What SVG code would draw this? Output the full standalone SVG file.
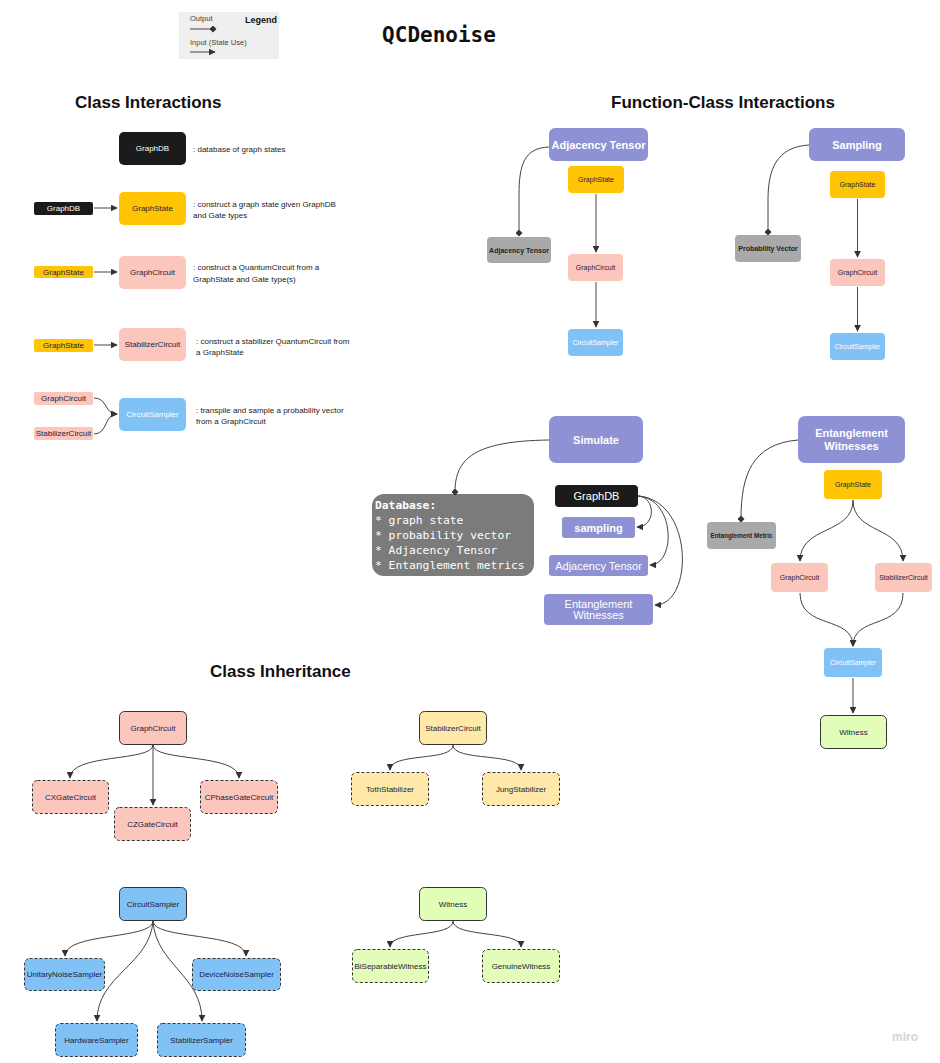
<svg xmlns="http://www.w3.org/2000/svg" width="940" height="1063" viewBox="0 0 940 1063">
  <defs>
    <marker id="arr" viewBox="0 0 10 10" refX="9" refY="5" markerWidth="7" markerHeight="7" markerUnits="userSpaceOnUse" orient="auto">
      <path d="M0,0 L10,5 L0,10 z" fill="#333"/>
    </marker>
    <marker id="dia" viewBox="0 0 10 10" refX="5" refY="5" markerWidth="7" markerHeight="7" markerUnits="userSpaceOnUse" orient="auto">
      <path d="M0,5 L5,0 L10,5 L5,10 z" fill="#333"/>
    </marker>
    <style>
      text { font-family: "Liberation Sans", Arial, sans-serif; }
      .title { font-size: 17px; font-weight: bold; fill: #111; }
      .lbl { font-size: 8px; text-anchor: middle; dominant-baseline: central; }
      .sm { font-size: 7px; }
      .big { font-size: 11px; }
      .desc { font-size: 8px; fill: #222; }
      .head { font-size: 11px; font-weight: bold; fill: #fff; text-anchor: middle; dominant-baseline: central; }
      .gray { fill: #a9a9a9; }
      .gl { font-size: 7px; font-weight: bold; fill: #222; text-anchor: middle; dominant-baseline: central; }
      .black { fill: #1b1b1b; }
      .yellow { fill: #ffc505; }
      .pink { fill: #fbc7bc; }
      .blue { fill: #80c2f6; }
      .purple { fill: #8e92d4; }
      .lyellow { fill: #ffe8a8; }
      .lgreen { fill: #e2fdb7; }
      .solid { stroke: #333; stroke-width: 1; }
      .dash { stroke: #333; stroke-width: 1; stroke-dasharray: 3 2; }
      .dk { fill: #1e1a3c; }
      .wh { fill: #fff; }
      .conn path { fill: none; stroke: #444; stroke-width: 1; }
      .mono { font-family: "DejaVu Sans Mono", "Liberation Mono", monospace; }
      .db { font-size: 11.3px; fill: #fff; }
    </style>
  </defs>

  <rect width="940" height="1063" fill="#fff"/>

  <!-- legend -->
  <g id="legend">
    <rect x="179" y="12" width="100" height="47" fill="#efefef"/>
    <text x="190" y="21" font-size="7.5" fill="#444">Output</text>
    <text x="245" y="23" font-size="9" font-weight="bold" fill="#111">Legend</text>
    <line x1="190" y1="29" x2="213" y2="29" stroke="#444" stroke-width="1" marker-end="url(#dia)"/>
    <text x="190" y="45" font-size="7.5" fill="#444">Input (State Use)</text>
    <line x1="190" y1="52" x2="215" y2="52" stroke="#444" stroke-width="1" marker-end="url(#arr)"/>
  </g>

  <text x="439" y="42" text-anchor="middle" class="mono" font-size="21" font-weight="bold" fill="#111">QCDenoise</text>

  <text x="75" y="108" class="title">Class Interactions</text>
  <text x="611" y="108" class="title">Function-Class Interactions</text>
  <text x="210" y="677" class="title">Class Inheritance</text>

  <!-- ===== Class Interactions ===== -->
  <g id="ci-graphdb">
    <rect x="119" y="132" width="67" height="33" rx="5" class="black"/>
    <text x="152.5" y="148.5" class="lbl wh">GraphDB</text>
  </g>
  <text x="193" y="152" class="desc">: database of graph states</text>

  <g id="ci-graphdb-in">
    <rect x="34" y="202" width="59" height="13" rx="2" class="black"/>
    <text x="63.5" y="208.5" class="lbl wh">GraphDB</text>
  </g>
  <g id="ci-graphstate">
    <rect x="119" y="192" width="67" height="33" rx="5" class="yellow"/>
    <text x="152.5" y="208.5" class="lbl dk">GraphState</text>
  </g>
  <text x="193" y="207" class="desc">: construct a graph state given GraphDB</text>
  <text x="193" y="218" class="desc">and Gate types</text>

  <g id="ci-graphstate-in1">
    <rect x="34" y="266" width="59" height="12" rx="2" class="yellow"/>
    <text x="63.5" y="272" class="lbl dk">GraphState</text>
  </g>
  <g id="ci-graphcircuit">
    <rect x="119" y="256" width="67" height="33" rx="5" class="pink"/>
    <text x="152.5" y="272.5" class="lbl dk">GraphCircuit</text>
  </g>
  <text x="193" y="270" class="desc">: construct a QuantumCircuit from a</text>
  <text x="193" y="282" class="desc">GraphState and Gate type(s)</text>

  <g id="ci-graphstate-in2">
    <rect x="34" y="339" width="59" height="13" rx="2" class="yellow"/>
    <text x="63.5" y="345.5" class="lbl dk">GraphState</text>
  </g>
  <g id="ci-stabilizercircuit">
    <rect x="119" y="328" width="67" height="33" rx="5" class="pink"/>
    <text x="152.5" y="344.5" class="lbl dk">StabilizerCircuit</text>
  </g>
  <text x="196" y="344" class="desc">: construct a stabilizer QuantumCircuit from</text>
  <text x="196" y="355" class="desc">a GraphState</text>

  <g id="ci-graphcircuit-in">
    <rect x="34" y="392" width="59" height="13" rx="2" class="pink"/>
    <text x="63.5" y="398.5" class="lbl dk">GraphCircuit</text>
  </g>
  <g id="ci-stabilizercircuit-in">
    <rect x="34" y="427" width="59" height="13" rx="2" class="pink"/>
    <text x="63.5" y="433.5" class="lbl dk">StabilizerCircuit</text>
  </g>
  <g id="ci-circuitsampler">
    <rect x="119" y="398" width="67" height="33" rx="5" class="blue"/>
    <text x="152.5" y="414.5" class="lbl wh">CircuitSampler</text>
  </g>
  <text x="196" y="413" class="desc">: transpile and sample a probability vector</text>
  <text x="196" y="424" class="desc">from a GraphCircuit</text>

  <!-- ===== Function-Class: Adjacency Tensor ===== -->
  <g id="fc-adj-head">
    <rect x="549" y="128" width="99" height="33" rx="6" class="purple"/>
    <text x="598.5" y="144.5" class="head">Adjacency Tensor</text>
  </g>
  <g id="fc-adj-out">
    <rect x="487" y="237" width="64" height="26" rx="4" class="gray"/>
    <text x="519" y="250" class="gl">Adjacency Tensor</text>
  </g>
  <g id="fc-adj-graphstate">
    <rect x="568" y="166" width="56" height="27" rx="4" class="yellow"/>
    <text x="596" y="179.5" class="lbl sm dk">GraphState</text>
  </g>
  <g id="fc-adj-graphcircuit">
    <rect x="568" y="254" width="55" height="27" rx="4" class="pink"/>
    <text x="595.5" y="267.5" class="lbl sm dk">GraphCircuit</text>
  </g>
  <g id="fc-adj-circuitsampler">
    <rect x="568" y="329" width="55" height="27" rx="4" class="blue"/>
    <text x="595.5" y="342.5" class="lbl sm wh">CircuitSampler</text>
  </g>

  <!-- ===== Function-Class: Sampling ===== -->
  <g id="fc-smp-head">
    <rect x="809" y="128" width="96" height="33" rx="6" class="purple"/>
    <text x="857" y="144.5" class="head">Sampling</text>
  </g>
  <g id="fc-smp-out">
    <rect x="735" y="235" width="66" height="27" rx="4" class="gray"/>
    <text x="768" y="248.5" class="gl">Probability Vector</text>
  </g>
  <g id="fc-smp-graphstate">
    <rect x="830" y="171" width="55" height="27" rx="4" class="yellow"/>
    <text x="857.5" y="184.5" class="lbl sm dk">GraphState</text>
  </g>
  <g id="fc-smp-graphcircuit">
    <rect x="830" y="259" width="55" height="27" rx="4" class="pink"/>
    <text x="857.5" y="272.5" class="lbl sm dk">GraphCircuit</text>
  </g>
  <g id="fc-smp-circuitsampler">
    <rect x="830" y="333" width="55" height="27" rx="4" class="blue"/>
    <text x="857.5" y="346.5" class="lbl sm wh">CircuitSampler</text>
  </g>

  <!-- ===== Function-Class: Simulate ===== -->
  <g id="fc-sim-head">
    <rect x="549" y="416" width="94" height="47" rx="7" class="purple"/>
    <text x="596" y="439.5" class="head">Simulate</text>
  </g>
  <g id="fc-sim-db">
    <rect x="372" y="494" width="162" height="82" rx="12" fill="#7b7b7b"/>
    <text x="375" y="509" class="mono db" font-weight="bold">Database:</text>
    <text x="375" y="524" class="mono db">* graph state</text>
    <text x="375" y="539" class="mono db">* probability vector</text>
    <text x="375" y="554" class="mono db">* Adjacency Tensor</text>
    <text x="375" y="569" class="mono db">* Entanglement metrics</text>
  </g>
  <g id="fc-sim-graphdb">
    <rect x="555" y="485" width="83" height="22" rx="4" class="black"/>
    <text x="596.5" y="496" class="lbl big wh">GraphDB</text>
  </g>
  <g id="fc-sim-sampling">
    <rect x="562" y="517" width="73" height="21" rx="3" class="purple"/>
    <text x="598.5" y="527.5" class="head">sampling</text>
  </g>
  <g id="fc-sim-adj">
    <rect x="549" y="555" width="99" height="21" rx="3" class="purple"/>
    <text x="598.5" y="565.5" class="lbl big wh">Adjacency Tensor</text>
  </g>
  <g id="fc-sim-ew">
    <rect x="544" y="594" width="109" height="31" rx="4" class="purple"/>
    <text x="598.5" y="603.5" class="lbl big wh">Entanglement</text>
    <text x="598.5" y="615" class="lbl big wh">Witnesses</text>
  </g>

  <!-- ===== Function-Class: Entanglement Witnesses ===== -->
  <g id="fc-ew-head">
    <rect x="798" y="416" width="107" height="47" rx="7" class="purple"/>
    <text x="851.5" y="433" class="head">Entanglement</text>
    <text x="851.5" y="446" class="head">Witnesses</text>
  </g>
  <g id="fc-ew-out">
    <rect x="707" y="522" width="69" height="27" rx="4" class="gray"/>
    <text x="741.5" y="535.5" class="gl" style="font-size:6.3px">Entanglement Metric</text>
  </g>
  <g id="fc-ew-graphstate">
    <rect x="824" y="470" width="58" height="29" rx="4" class="yellow"/>
    <text x="853" y="484.5" class="lbl sm dk">GraphState</text>
  </g>
  <g id="fc-ew-graphcircuit">
    <rect x="771" y="563" width="57" height="29" rx="4" class="pink"/>
    <text x="799.5" y="577.5" class="lbl sm dk">GraphCircuit</text>
  </g>
  <g id="fc-ew-stabilizercircuit">
    <rect x="875" y="563" width="57" height="29" rx="4" class="pink"/>
    <text x="903.5" y="577.5" class="lbl sm dk">StabilizerCircuit</text>
  </g>
  <g id="fc-ew-circuitsampler">
    <rect x="824" y="648" width="58" height="29" rx="4" class="blue"/>
    <text x="853" y="662.5" class="lbl sm wh">CircuitSampler</text>
  </g>
  <g id="fc-ew-witness">
    <rect x="820.5" y="715.5" width="66" height="33" rx="5" class="lgreen solid"/>
    <text x="853.5" y="732" class="lbl dk">Witness</text>
  </g>

  <!-- ===== Class Inheritance ===== -->
  <g id="in-graphcircuit">
    <rect x="119.5" y="711.5" width="67" height="33" rx="5" class="pink solid"/>
    <text x="153" y="728" class="lbl dk">GraphCircuit</text>
  </g>
  <g id="in-cx">
    <rect x="32.5" y="780.5" width="76" height="33" rx="5" class="pink dash"/>
    <text x="70.5" y="797" class="lbl dk">CXGateCircuit</text>
  </g>
  <g id="in-cz">
    <rect x="114.5" y="807.5" width="76" height="33" rx="5" class="pink dash"/>
    <text x="152.5" y="824" class="lbl dk">CZGateCircuit</text>
  </g>
  <g id="in-cphase">
    <rect x="200.5" y="780.5" width="77" height="33" rx="5" class="pink dash"/>
    <text x="239" y="797" class="lbl dk">CPhaseGateCircuit</text>
  </g>

  <g id="in-stabilizercircuit">
    <rect x="419.5" y="711.5" width="67" height="33" rx="5" class="lyellow solid"/>
    <text x="453" y="728" class="lbl dk">StabilizerCircuit</text>
  </g>
  <g id="in-toth">
    <rect x="351.5" y="772.5" width="77" height="33" rx="5" class="lyellow dash"/>
    <text x="390" y="789" class="lbl dk">TothStabilizer</text>
  </g>
  <g id="in-jung">
    <rect x="482.5" y="772.5" width="77" height="33" rx="5" class="lyellow dash"/>
    <text x="521" y="789" class="lbl dk">JungStabilizer</text>
  </g>

  <g id="in-circuitsampler">
    <rect x="119.5" y="887.5" width="67" height="33" rx="5" class="blue solid"/>
    <text x="153" y="904" class="lbl dk">CircuitSampler</text>
  </g>
  <g id="in-unitary">
    <rect x="24.5" y="958.5" width="80" height="32" rx="5" class="blue dash"/>
    <text x="64.5" y="974.5" class="lbl dk">UnitaryNoiseSampler</text>
  </g>
  <g id="in-device">
    <rect x="192.5" y="958.5" width="88" height="32" rx="5" class="blue dash"/>
    <text x="236.5" y="974.5" class="lbl dk">DeviceNoiseSampler</text>
  </g>
  <g id="in-hardware">
    <rect x="55.5" y="1023.5" width="82" height="33" rx="5" class="blue dash"/>
    <text x="96.5" y="1040" class="lbl dk">HardwareSampler</text>
  </g>
  <g id="in-stabsampler">
    <rect x="157.5" y="1023.5" width="88" height="33" rx="5" class="blue dash"/>
    <text x="201.5" y="1040" class="lbl dk">StabilizerSampler</text>
  </g>

  <g id="in-witness">
    <rect x="419.5" y="887.5" width="67" height="33" rx="5" class="lgreen solid"/>
    <text x="453" y="904" class="lbl dk">Witness</text>
  </g>
  <g id="in-bisep">
    <rect x="352.5" y="949.5" width="76" height="33" rx="5" class="lgreen dash"/>
    <text x="390.5" y="966" class="lbl dk">BiSeparableWitness</text>
  </g>
  <g id="in-genuine">
    <rect x="482.5" y="949.5" width="77" height="33" rx="5" class="lgreen dash"/>
    <text x="521" y="966" class="lbl dk">GenuineWitness</text>
  </g>

  <!-- ===== connectors ===== -->
  <g id="connectors" class="conn">
    <!-- class interactions -->
    <path d="M94,208 L117,208" marker-end="url(#arr)"/>
    <path d="M94,272 L117,272" marker-end="url(#arr)"/>
    <path d="M94,345 L117,345" marker-end="url(#arr)"/>
    <path d="M94,398 C108,398 104,414 117,414" marker-end="url(#arr)"/>
    <path d="M94,434 C108,434 104,414 117,414" marker-end="url(#arr)"/>

    <!-- adjacency tensor -->
    <path d="M549,147 C524,148 519,165 519,195 L519,233" marker-end="url(#dia)"/>
    <path d="M596,194 L596,252" marker-end="url(#arr)"/>
    <path d="M596,282 L596,327" marker-end="url(#arr)"/>

    <!-- sampling -->
    <path d="M809,145 C776,147 768,170 768,200 L768,232" marker-end="url(#dia)"/>
    <path d="M857.5,199 L857.5,257" marker-end="url(#arr)"/>
    <path d="M857.5,287 L857.5,331" marker-end="url(#arr)"/>

    <!-- simulate -->
    <path d="M549,440 C475,441 455,458 455,492" marker-end="url(#dia)"/>
    <path d="M638,496 C656,497 656,527 637,527" marker-end="url(#arr)"/>
    <path d="M638,496 C676,499 676,565 650,565" marker-end="url(#arr)"/>
    <path d="M638,496 C694,500 694,605 655,605" marker-end="url(#arr)"/>

    <!-- entanglement witnesses -->
    <path d="M798,440 C752,444 741,475 741,519" marker-end="url(#dia)"/>
    <path d="M853,500 C853,535 800,525 800,561" marker-end="url(#arr)"/>
    <path d="M853,500 C853,535 903,525 903,561" marker-end="url(#arr)"/>
    <path d="M800,593 C800,630 853,615 853,646" marker-end="url(#arr)"/>
    <path d="M903,593 C903,630 853,615 853,646" marker-end="url(#arr)"/>
    <path d="M853,678 L853,713" marker-end="url(#arr)"/>

    <!-- inheritance -->
    <path d="M153,745 C153,762 70,753 70,778" marker-end="url(#arr)"/>
    <path d="M153,745 L153,805" marker-end="url(#arr)"/>
    <path d="M153,745 C153,762 239,753 239,778" marker-end="url(#arr)"/>

    <path d="M453,745 C453,762 390,752 390,770" marker-end="url(#arr)"/>
    <path d="M453,745 C453,762 521,752 521,770" marker-end="url(#arr)"/>

    <path d="M153,921 C153,940 65,932 65,956" marker-end="url(#arr)"/>
    <path d="M153,921 C150,965 97,975 97,1021" marker-end="url(#arr)"/>
    <path d="M153,921 C156,965 202,975 202,1021" marker-end="url(#arr)"/>
    <path d="M153,921 C153,940 246,932 246,956" marker-end="url(#arr)"/>

    <path d="M453,921 C453,938 390,930 390,947" marker-end="url(#arr)"/>
    <path d="M453,921 C453,938 521,930 521,947" marker-end="url(#arr)"/>
  </g>

  <text x="905" y="1041" text-anchor="middle" font-size="12" font-weight="bold" fill="#d4d4dc">miro</text>
</svg>
